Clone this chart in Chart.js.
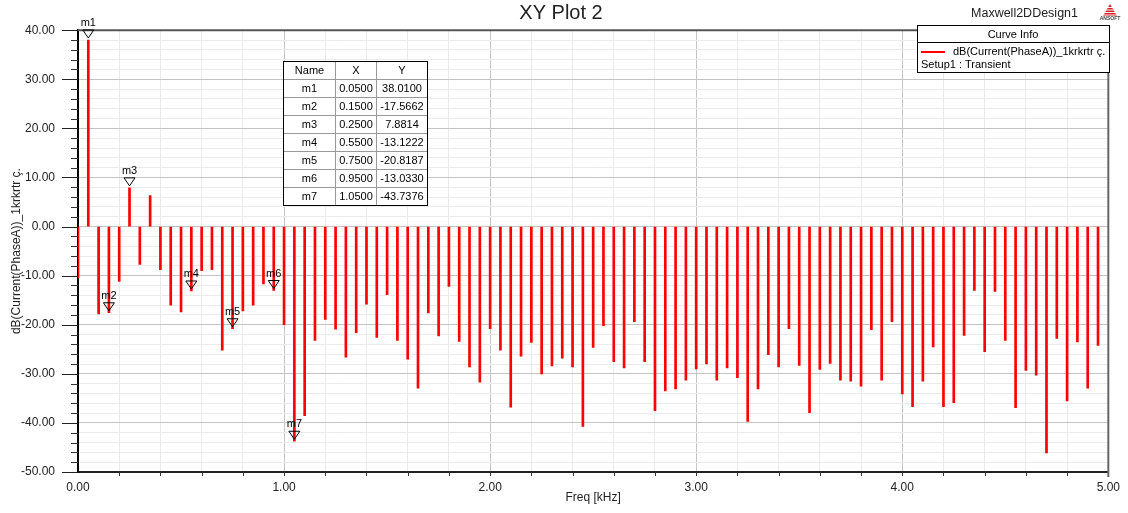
<!DOCTYPE html>
<html>
<head>
<meta charset="utf-8">
<script src="https://cdn.jsdelivr.net/npm/chart.js@4.4.1/dist/chart.umd.min.js"></script>
<style>
html,body{margin:0;padding:0;background:#fff;}
canvas{display:block;}
</style>
</head>
<body>
<canvas id="c" width="1128" height="513"></canvas>
<script>
// ---- data ----
const freqs = [0.00,0.05,0.10,0.15,0.20,0.25,0.30,0.35,0.40,0.45,0.50,0.55,0.60,0.65,0.70,0.75,0.80,0.85,0.90,0.95,
1.00,1.05,1.10,1.15,1.20,1.25,1.30,1.35,1.40,1.45,1.50,1.55,1.60,1.65,1.70,1.75,1.80,1.85,1.90,1.95,
2.00,2.05,2.10,2.15,2.20,2.25,2.30,2.35,2.40,2.45,2.50,2.55,2.60,2.65,2.70,2.75,2.80,2.85,2.90,2.95,
3.00,3.05,3.10,3.15,3.20,3.25,3.30,3.35,3.40,3.45,3.50,3.55,3.60,3.65,3.70,3.75,3.80,3.85,3.90,3.95,
4.00,4.05,4.10,4.15,4.20,4.25,4.30,4.35,4.40,4.45,4.50,4.55,4.60,4.65,4.70,4.75,4.80,4.85,4.90,4.95];
const magnitudes = [-10.4,38.01,-17.8,-17.5662,-11.2,7.8814,-7.7,6.3,-8.8,-16.0,-17.4,-13.1222,-9.0,-8.8,-25.2,-20.8187,-17.2,-16.0,-11.7,-13.033,
-20.0,-43.7376,-38.5,-23.2,-18.9,-20.9,-26.6,-21.6,-15.8,-22.6,-13.9,-23.2,-27.0,-32.9,-17.6,-22.3,-12.2,-23.4,-28.6,-31.7,
-20.8,-25.2,-36.8,-26.4,-23.6,-30.0,-28.4,-26.8,-28.6,-40.7,-24.6,-20.2,-27.5,-28.8,-19.4,-27.5,-37.5,-33.5,-33.1,-31.3,
-29.0,-28.0,-31.3,-28.8,-30.8,-39.7,-33.1,-26.1,-28.6,-20.8,-28.3,-37.9,-29.1,-27.9,-31.3,-31.5,-32.5,-21.0,-31.3,-19.4,
-34.1,-36.7,-31.5,-24.5,-36.7,-35.9,-22.2,-13.0,-25.5,-13.2,-23.2,-36.9,-29.3,-30.3,-46.1,-22.8,-35.5,-23.5,-32.9,-24.2];
const markerNames = ['m1','m2','m3','m4','m5','m6','m7'];
const markerX = [0.05,0.15,0.25,0.55,0.75,0.95,1.05];
const markerY = [38.0100,-17.5662,7.8814,-13.1222,-20.8187,-13.0330,-43.7376];
const tableHeader = ['Name','X','Y'];
const yTickLabelsEvery = 10;   // labelled y ticks
const xTickLabelsEvery = 1;    // labelled x ticks
const chartTitle = 'XY Plot 2';
const designName = 'Maxwell2DDesign1';
const seriesName = 'dB(Current(PhaseA))_1krkrtr ç.';
const setupName = 'Setup1 : Transient';
const xTitle = 'Freq [kHz]';
const yTitle = 'dB(Current(PhaseA))_1krkrtr ç.';

const FONT = '"Liberation Sans", Arial, sans-serif';
const isMult = (v, m) => Math.abs(v / m - Math.round(v / m)) < 1e-6;

const overlay = {
  id: 'overlay',
  afterDraw(chart) {
    const ctx = chart.ctx;
    const xs = chart.scales.x, ys = chart.scales.y;
    const a = chart.chartArea;
    ctx.save();
    // y ticks
    ys.ticks.forEach(t => {
      const y = Math.round(ys.getPixelForValue(t.value)) + 0.5;
      const major = isMult(t.value, yTickLabelsEvery);
      ctx.strokeStyle = major ? '#222' : '#333';
      ctx.lineWidth = 1;
      ctx.beginPath();
      ctx.moveTo(a.left - (major ? 16 : 7), y);
      ctx.lineTo(a.left, y);
      ctx.stroke();
    });
    // x ticks
    xs.ticks.forEach(t => {
      if (t.value <= 0) return;
      const x = Math.round(xs.getPixelForValue(t.value)) + 0.5;
      ctx.strokeStyle = '#333';
      ctx.beginPath();
      ctx.moveTo(x, a.bottom);
      ctx.lineTo(x, a.bottom + 4);
      ctx.stroke();
    });
    // top and right borders
    ctx.strokeStyle = '#555';
    ctx.lineWidth = 2;
    ctx.beginPath();
    ctx.moveTo(a.left, a.top);
    ctx.lineTo(a.right, a.top);
    ctx.stroke();
    ctx.strokeStyle = '#666';
    ctx.beginPath();
    ctx.moveTo(a.right, a.top);
    ctx.lineTo(a.right, a.bottom + 5);
    ctx.stroke();

    // markers
    ctx.lineWidth = 1;
    ctx.strokeStyle = '#000';
    ctx.fillStyle = '#000';
    ctx.font = '11px ' + FONT;
    ctx.textAlign = 'center';
    ctx.textBaseline = 'alphabetic';
    markerNames.forEach((n, i) => {
      const px = xs.getPixelForValue(markerX[i]);
      const py = ys.getPixelForValue(markerY[i]);
      ctx.beginPath();
      ctx.moveTo(px - 5.5, py - 10);
      ctx.lineTo(px + 5.5, py - 10);
      ctx.lineTo(px, py - 2);
      ctx.closePath();
      ctx.stroke();
      ctx.fillText(n, px, py - 14);
    });

    // marker table
    const tx = [283, 335, 376, 427];
    const ty0 = 61, rh = 18;
    const rows = markerNames.length + 1;
    ctx.fillStyle = '#fff';
    ctx.fillRect(tx[0], ty0, tx[3] - tx[0], rh * rows);
    ctx.strokeStyle = '#999';
    ctx.lineWidth = 1;
    for (let r = 1; r < rows; r++) {
      ctx.beginPath();
      ctx.moveTo(tx[0], ty0 + r * rh + 0.5);
      ctx.lineTo(tx[3], ty0 + r * rh + 0.5);
      ctx.stroke();
    }
    [tx[1], tx[2]].forEach(x => {
      ctx.beginPath();
      ctx.moveTo(x + 0.5, ty0);
      ctx.lineTo(x + 0.5, ty0 + rh * rows);
      ctx.stroke();
    });
    ctx.strokeStyle = '#000';
    ctx.strokeRect(tx[0] + 0.5, ty0 + 0.5, tx[3] - tx[0], rh * rows);
    ctx.fillStyle = '#000';
    ctx.font = '11px ' + FONT;
    ctx.textBaseline = 'middle';
    for (let r = 0; r < rows; r++) {
      const cells = r === 0 ? tableHeader :
        [markerNames[r - 1], markerX[r - 1].toFixed(4), markerY[r - 1].toFixed(4)];
      for (let c = 0; c < 3; c++) {
        ctx.fillText(cells[c], (tx[c] + tx[c + 1]) / 2 + 0.5, ty0 + r * rh + rh / 2 + 1);
      }
    }

    // curve info box
    const bx = 917, by = 25, bw = 192, bh = 47;
    ctx.fillStyle = '#fff';
    ctx.fillRect(bx, by, bw, bh);
    ctx.strokeStyle = '#000';
    ctx.strokeRect(bx + 0.5, by + 0.5, bw, bh);
    ctx.beginPath();
    ctx.moveTo(bx, by + 17.5);
    ctx.lineTo(bx + bw, by + 17.5);
    ctx.stroke();
    ctx.fillStyle = '#000';
    ctx.font = '11px ' + FONT;
    ctx.textAlign = 'center';
    ctx.fillText('Curve Info', bx + bw / 2, by + 9.5);
    ctx.strokeStyle = '#ff0000';
    ctx.lineWidth = 2;
    ctx.beginPath();
    ctx.moveTo(921, 52);
    ctx.lineTo(945, 52);
    ctx.stroke();
    ctx.textAlign = 'left';
    ctx.fillText(seriesName, 953, 52);
    ctx.fillText(setupName, 921, 65);

    // titles
    ctx.font = '20px ' + FONT;
    ctx.textAlign = 'center';
    ctx.textBaseline = 'alphabetic';
    ctx.fillStyle = '#222';
    ctx.fillText(chartTitle, 561, 19);
    ctx.font = '12.5px ' + FONT;
    ctx.textAlign = 'right';
    ctx.fillText(designName, 1078, 17);

    // logo
    ctx.fillStyle = '#d42020';
    ctx.beginPath();
    ctx.moveTo(1110, 4);
    ctx.lineTo(1117, 16);
    ctx.lineTo(1103, 16);
    ctx.closePath();
    ctx.fill();
    ctx.strokeStyle = '#fff';
    ctx.lineWidth = 1;
    for (let yy = 7.5; yy < 16; yy += 2.5) {
      ctx.beginPath();
      ctx.moveTo(1100, yy);
      ctx.lineTo(1120, yy);
      ctx.stroke();
    }
    ctx.fillStyle = '#444';
    ctx.font = 'bold 5px ' + FONT;
    ctx.textAlign = 'center';
    ctx.fillText('ANSOFT', 1110, 20);

    // axis titles
    ctx.fillStyle = '#222';
    ctx.font = '12px ' + FONT;
    ctx.textAlign = 'center';
    ctx.textBaseline = 'middle';
    ctx.fillText(xTitle, (a.left + a.right) / 2, 498);
    ctx.save();
    ctx.translate(17, (a.top + a.bottom) / 2);
    ctx.rotate(-Math.PI / 2);
    ctx.fillText(yTitle, 0, 0);
    ctx.restore();

    ctx.restore();
  }
};

new Chart(document.getElementById('c'), {
  type: 'bar',
  data: {
    datasets: [{
      label: seriesName,
      data: freqs.map((f, i) => ({ x: f, y: magnitudes[i] })),
      backgroundColor: '#ff0000',
      borderWidth: 0,
      barThickness: 2
    }]
  },
  options: {
    responsive: false,
    animation: false,
    devicePixelRatio: 1,
    layout: { padding: { left: 0, top: 27, right: 19, bottom: 0 } },
    plugins: { legend: { display: false }, title: { display: false }, tooltip: { enabled: false } },
    scales: {
      x: {
        type: 'linear', min: 0, max: 5, offset: false,
        afterFit: s => { s.height = 41; },
        ticks: {
          stepSize: 0.2, autoSkip: false, maxRotation: 0, padding: 8,
          color: '#222', font: { family: FONT, size: 12 },
          callback: v => isMult(v, xTickLabelsEvery) ? v.toFixed(2) : ''
        },
        grid: {
          offset: false, drawTicks: false, lineWidth: 1,
          color: c => isMult(c.tick.value, xTickLabelsEvery) ? '#c4c4c4' : '#ebebeb'
        },
        border: { display: true, color: '#222', width: 2 }
      },
      y: {
        type: 'linear', min: -50, max: 40,
        afterFit: s => { s.width = 78; },
        ticks: {
          stepSize: 2, autoSkip: false, padding: 23,
          color: '#222', font: { family: FONT, size: 12 },
          callback: v => isMult(v, yTickLabelsEvery) ? v.toFixed(2) : ''
        },
        grid: {
          drawTicks: false, lineWidth: 1,
          color: c => isMult(c.tick.value, yTickLabelsEvery) ? '#c4c4c4' : '#ebebeb'
        },
        border: { display: true, color: '#000', width: 2 }
      }
    }
  },
  plugins: [overlay]
});
</script>
</body>
</html>
